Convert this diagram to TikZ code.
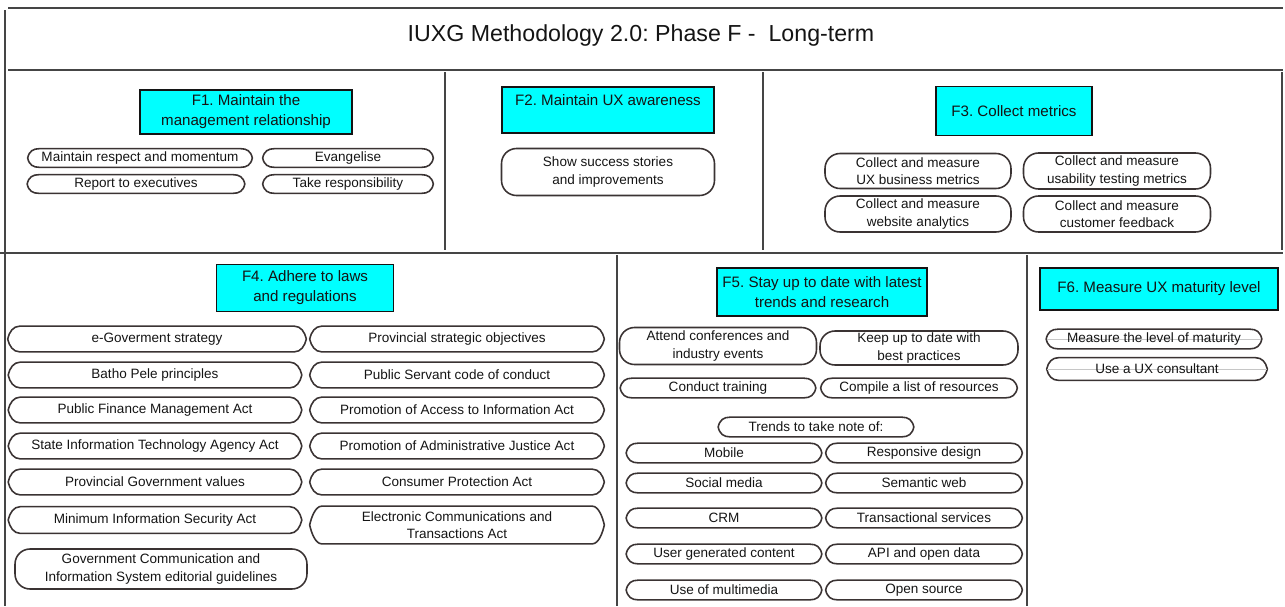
\documentclass[tikz,border=0pt]{standalone}
\usepackage{fontspec}
\setmainfont{Liberation Sans}
\usepackage{tikz}
\frenchspacing

\definecolor{ink}{HTML}{141414}
\definecolor{outline}{HTML}{3A3333}
\definecolor{linegray}{HTML}{454545}
\definecolor{headcyan}{HTML}{00FFFF}

\tikzset{
    panel/.style = {line width=1.1pt, draw=linegray},
    heading/.style = {draw=ink, line width=1pt, fill=headcyan, text=ink, inner sep=0pt, align=center, font=\fontsize{8.6}{11.4}\selectfont},
    label text/.style = {text=ink, inner sep=0pt, align=center, font=\fontsize{7.7}{10}\selectfont},
    roundbox/.style = {label text, draw=outline, line width=0.9pt, rounded corners=0.3cm},
    % capsule with pointed ends, drawn round the node once it is placed
    pill/.style = {label text, minimum height=0.38cm,
        append after command={\pgfextra{\let\pillnode\tikzlastnode
            \draw[outline, line width=0.9pt] (\pillnode.west)
                .. controls +(0.03cm,0.14cm) and +(-0.13cm,0) .. ([xshift=0.24cm]\pillnode.north west)
                -- ([xshift=-0.24cm]\pillnode.north east)
                .. controls +(0.13cm,0) and +(-0.03cm,0.14cm) .. (\pillnode.east)
                .. controls +(-0.03cm,-0.14cm) and +(0.13cm,0) .. ([xshift=-0.24cm]\pillnode.south east)
                -- ([xshift=0.24cm]\pillnode.south west)
                .. controls +(-0.13cm,0) and +(0.03cm,-0.14cm) .. cycle;}}},
    ruled/.style = {path picture={\draw[gray!45, line width=0.4pt] (path picture bounding box.west) -- (path picture bounding box.east);}}
}

\begin{document}
\begin{tikzpicture}[x=0.02cm, y=-0.02cm]
    \useasboundingbox (0,0) rectangle (1285,606);

    % frame and panels
    \draw[panel] (8,8) -- (1283,8);
    \draw[panel] (5,10) -- (5,606);
    \draw[panel] (8,70) -- (1283,70);
    \draw[panel] (445,72) -- (445,250);
    \draw[panel] (763,72) -- (763,250);
    \draw[panel, line width=0.6pt] (1282,72) -- (1282,250);
    \draw[panel] (0,253) -- (1283,253);
    \draw[panel] (617,255) -- (617,606);
    \draw[panel] (1027,255) -- (1027,606);

    \node[text=ink, font=\fontsize{13.2}{16}\selectfont] (title) at (641,35) {IUXG Methodology 2.0: Phase F - \ Long-term};

    % F1
    \node[heading, minimum width=4.24cm, minimum height=0.88cm] (f1) at (246,112) {F1. Maintain the\\management relationship};
    \node[pill, minimum width=4.48cm, minimum height=0.36cm] (respect) at (140,158) {Maintain respect and momentum};
    \node[pill, minimum width=3.4cm, minimum height=0.36cm] (evangelise) at (348,158) {Evangelise};
    \node[pill, minimum width=4.34cm, minimum height=0.36cm] (report) at (136,184) {Report to executives};
    \node[pill, minimum width=3.4cm, minimum height=0.36cm] (responsibility) at (348,184) {Take responsibility};

    % F2
    \node[heading, minimum width=4.24cm, minimum height=0.92cm] (f2) at (608,110) {F2. Maintain UX awareness\\\mbox{}};
    \node[roundbox, minimum width=4.26cm, minimum height=0.94cm] (stories) at (608,172) {Show success stories\\and improvements};

    % F3
    \node[heading, minimum width=3.12cm, minimum height=0.98cm] (f3) at (1014,111) {F3. Collect metrics};
    \node[roundbox, minimum width=3.72cm, minimum height=0.7cm] (business) at (918,171) {Collect and measure\\UX business metrics};
    \node[roundbox, minimum width=3.74cm, minimum height=0.72cm] (usability) at (1117,171) {Collect and measure\\usability testing metrics};
    \node[roundbox, minimum width=3.72cm, minimum height=0.72cm] (analytics) at (918,214) {Collect and measure\\website analytics};
    \node[roundbox, minimum width=3.74cm, minimum height=0.72cm] (feedback) at (1117,214) {Collect and measure\\customer feedback};

    % F4
    \node[heading, minimum width=3.54cm, minimum height=0.94cm] (f4) at (305,288) {F4. Adhere to laws\\and regulations};
    \node[pill, minimum width=5.96cm, minimum height=0.5cm] (egov) at (157,339) {e-Goverment strategy};
    \node[pill, minimum width=5.86cm, minimum height=0.5cm] (batho) at (155,375) {Batho Pele principles};
    \node[pill, minimum width=5.86cm, minimum height=0.5cm] (finance) at (155,410) {Public Finance Management Act};
    \node[pill, minimum width=5.86cm, minimum height=0.5cm] (sita) at (155,446) {State Information Technology Agency Act};
    \node[pill, minimum width=5.86cm, minimum height=0.5cm] (values) at (155,482) {Provincial Government values};
    \node[pill, minimum width=5.86cm, minimum height=0.52cm] (security) at (155,520) {Minimum Information Security Act};
    \node[roundbox, minimum width=5.84cm, minimum height=0.8cm] (gcis) at (161,569) {Government Communication and\\Information System editorial guidelines};
    \node[pill, minimum width=5.88cm, minimum height=0.5cm] (objectives) at (457,339) {Provincial strategic objectives};
    \node[pill, minimum width=5.88cm, minimum height=0.5cm] (conduct) at (457,375) {Public Servant code of conduct};
    \node[pill, minimum width=5.88cm, minimum height=0.5cm] (access) at (457,410) {Promotion of Access to Information Act};
    \node[pill, minimum width=5.88cm, minimum height=0.5cm] (justice) at (457,446) {Promotion of Administrative Justice Act};
    \node[pill, minimum width=5.88cm, minimum height=0.5cm] (consumer) at (457,482) {Consumer Protection Act};
    \node[pill, minimum width=5.88cm, minimum height=0.74cm] (ecta) at (457,525) {Electronic Communications and\\Transactions Act};

    % F5
    \node[heading, minimum width=4.2cm, minimum height=0.96cm] (f5) at (822,292) {F5. Stay up to date with latest\\trends and research};
    \node[roundbox, minimum width=3.94cm, minimum height=0.74cm] (conferences) at (718,346) {Attend conferences and\\industry events};
    \node[roundbox, minimum width=3.96cm, minimum height=0.68cm] (practices) at (919,348) {Keep up to date with\\best practices};
    \node[pill, minimum width=3.9cm] (training) at (718,388) {Conduct training};
    \node[pill, minimum width=3.92cm] (resources) at (919,388) {Compile a list of resources};
    \node[pill, minimum width=3.9cm] (trends) at (816,427) {Trends to take note of:};
    \node[pill, minimum width=3.9cm] (mobile) at (724,453) {Mobile};
    \node[pill, minimum width=3.92cm] (responsive) at (924,453) {Responsive design};
    \node[pill, minimum width=3.9cm] (social) at (724,483) {Social media};
    \node[pill, minimum width=3.92cm] (semantic) at (924,483) {Semantic web};
    \node[pill, minimum width=3.9cm] (crm) at (724,518) {CRM};
    \node[pill, minimum width=3.92cm] (transactional) at (924,518) {Transactional services};
    \node[pill, minimum width=3.9cm] (usercontent) at (724,554) {User generated content};
    \node[pill, minimum width=3.92cm] (opendata) at (924,554) {API and open data};
    \node[pill, minimum width=3.9cm] (multimedia) at (724,590) {Use of multimedia};
    \node[pill, minimum width=3.92cm] (opensource) at (924,590) {Open source};

    % F6
    \node[heading, minimum width=4.76cm, minimum height=0.84cm] (f6) at (1159,289) {F6. Measure UX maturity level};
    \node[pill, ruled, minimum width=4.3cm] (maturity) at (1154,339) {Measure the level of maturity};
    \node[pill, ruled, minimum width=4.4cm, minimum height=0.44cm] (consultant) at (1157,369) {Use a UX consultant};
\end{tikzpicture}
\end{document}
